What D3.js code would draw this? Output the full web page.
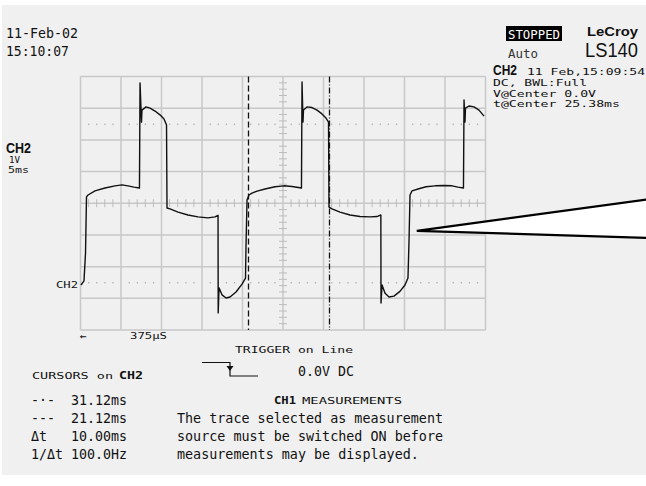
<!DOCTYPE html>
<html>
<head>
<meta charset="utf-8">
<script src="https://cdn.jsdelivr.net/npm/d3@7"></script>
<style>
  html, body { margin: 0; padding: 0; background: #ffffff; }
  #scope { width: 646px; height: 486px; }
  text { font-family: "DejaVu Sans Mono", monospace; fill: #111; }
</style>
</head>
<body>
<div id="scope"></div>
<script>
// screen settings
const timePerDiv = 5;        // ms
const voltPerDiv = 1;        // V
const timeCenter = 25.38;    // ms
const cursorTimes = [21.12, 31.12];
const cursorStyles = ["6,3", "6,2,1,2"];

// CH2 trace, time in ms and level in V
const traceTime = [
  0.44, 0.81, 1.00, 1.12, 1.31, 2.17, 3.40, 4.64, 5.50, 6.24, 6.98, 7.66,
  7.73, 7.91, 7.97, 8.47, 8.96, 9.58, 10.19, 10.69, 11.00,
  11.06, 11.43, 12.42, 13.65, 14.89, 16.12, 16.99, 17.36,
  17.38, 17.48, 17.85, 18.35, 18.84, 19.58, 20.32, 20.75, 20.81, 20.94, 21.18,
  21.55, 22.29, 23.16, 24.39, 25.50, 26.49, 27.66,
  27.73, 27.85, 27.91, 28.34, 28.96, 29.58, 30.19, 30.69, 31.00,
  31.06, 31.43, 32.42, 33.65, 34.89, 36.12, 36.99, 37.46,
  37.48, 37.61, 37.98, 38.47, 39.08, 39.82, 40.44, 40.81, 40.94, 41.06,
  41.31, 42.05, 43.04, 44.15, 45.26, 46.25, 46.99, 47.66,
  47.73, 47.85, 47.91, 48.34, 48.96, 49.58, 50.20
];
const traceVolt = [
  -2.58, -2.45, -1.57, 0.20, 0.26, 0.39, 0.48, 0.55, 0.58, 0.55, 0.51, 0.48,
  3.80, 2.56, 2.94, 3.04, 3.00, 2.91, 2.79, 2.66, 2.47,
  -0.15, -0.18, -0.28, -0.37, -0.43, -0.46, -0.43, -0.38,
  -3.46, -2.67, -2.89, -2.99, -2.96, -2.80, -2.55, -2.36, -1.38, 0.10, 0.26,
  0.32, 0.39, 0.45, 0.52, 0.55, 0.53, 0.48,
  3.83, 2.56, 2.94, 3.04, 3.02, 2.94, 2.82, 2.69, 2.56,
  -0.12, -0.18, -0.28, -0.37, -0.42, -0.43, -0.42, -0.37,
  -3.15, -2.58, -2.84, -2.96, -2.93, -2.78, -2.58, -2.36, -1.16, 0.26,
  0.39, 0.45, 0.52, 0.55, 0.56, 0.55, 0.51, 0.48,
  3.26, 2.56, 3.00, 3.07, 3.04, 2.94, 2.75
];

// reference marker levels (dotted lines) in V
const markerLevels = [2.5, -2.5];

const cursorLabels = ["-·-", "---", "Δt", "1/Δt"];
const cursorValues = ["31.12ms", "21.12ms", "10.00ms", "100.0Hz"];
const messageLines = [
  "The trace selected as measurement",
  "source must be switched ON before",
  "measurements may be displayed."
];

const W = 646, H = 486;
const svg = d3.select("#scope").append("svg")
  .attr("width", W).attr("height", H)
  .attr("viewBox", `0 0 ${W} ${H}`);

svg.append("rect").attr("x", 2).attr("y", 5).attr("width", W - 2).attr("height", 470)
  .attr("fill", "#f0f0f0");

const gLeft = 80.5, gRight = 485.5, gTop = 76.5, gBottom = 330;
const x = d3.scaleLinear()
  .domain([timeCenter - 5 * timePerDiv, timeCenter + 5 * timePerDiv])
  .range([gLeft, gRight]);
const y = d3.scaleLinear()
  .domain([-4 * voltPerDiv, 4 * voltPerDiv])
  .range([gBottom, gTop]);

// graticule
const grid = svg.append("g").attr("stroke", "#c8c8c8").attr("stroke-width", 1.5);
const xDivs = d3.range(0, 11).map(i => x.domain()[0] + i * timePerDiv);
const yDivs = d3.range(-4, 5).map(i => i * voltPerDiv);
grid.selectAll("line.v").data(xDivs).enter().append("line")
  .attr("x1", d => x(d)).attr("x2", d => x(d))
  .attr("y1", gTop).attr("y2", gBottom);
grid.selectAll("line.h").data(yDivs).enter().append("line")
  .attr("x1", gLeft).attr("x2", gRight)
  .attr("y1", d => y(d)).attr("y2", d => y(d));

// minor ticks on the centre lines
const minorT = d3.range(0, 51).map(i => x.domain()[0] + i * timePerDiv / 5)
  .filter((d, i) => i % 5 !== 0);
const minorV = d3.range(-20, 21).map(i => i * voltPerDiv / 5)
  .filter((d, i) => i % 5 !== 0);
const ticks = svg.append("g").attr("stroke", "#bcbcbc").attr("stroke-width", 1);
ticks.selectAll("line.tx").data(minorT).enter().append("line")
  .attr("x1", d => x(d)).attr("x2", d => x(d))
  .attr("y1", y(0) - 4).attr("y2", y(0) + 4);
ticks.selectAll("line.ty").data(minorV).enter().append("line")
  .attr("x1", x(timeCenter) - 4).attr("x2", x(timeCenter) + 4)
  .attr("y1", d => y(d)).attr("y2", d => y(d));

// dotted marker levels
markerLevels.forEach(lv => {
  svg.append("g").selectAll("rect").data(minorT).enter().append("rect")
    .attr("x", d => x(d) - 0.5).attr("y", y(lv) - 0.5)
    .attr("width", 1.2).attr("height", 1.5)
    .attr("fill", "#b0b0b0");
});

// cursors
svg.append("g").selectAll("line").data(cursorTimes).enter().append("line")
  .attr("x1", d => x(d)).attr("x2", d => x(d))
  .attr("y1", gTop).attr("y2", gBottom)
  .attr("stroke", "#111").attr("stroke-width", 1.3)
  .attr("stroke-dasharray", (d, i) => cursorStyles[i]);

// trace
const pts = traceTime.map((t, i) => [t, traceVolt[i]]);
const line = d3.line().x(d => x(d[0])).y(d => y(d[1]));
svg.append("path").datum(pts)
  .attr("d", line)
  .attr("fill", "none")
  .attr("stroke", "#111")
  .attr("stroke-width", 1.4)
  .attr("stroke-linejoin", "round");

// callout wedge
svg.append("path")
  .attr("d", `M${x(41.9)},${y(-0.87)} L650,199 L650,238 Z`)
  .attr("fill", "#ffffff")
  .attr("stroke", "#000")
  .attr("stroke-width", 2.2)
  .attr("stroke-linejoin", "miter");

// text helper
function label(str, px, py, size, opts = {}) {
  const t = svg.append("text")
    .attr("x", px).attr("y", py)
    .style("font-size", size + "px")
    .text(str);
  if (opts.len) t.attr("textLength", opts.len).attr("lengthAdjust", "spacingAndGlyphs");
  if (opts.bold) t.style("font-weight", "bold");
  if (opts.family) t.style("font-family", opts.family);
  if (opts.fill) t.style("fill", opts.fill);
  if (opts.anchor) t.attr("text-anchor", opts.anchor);
  return t;
}

label("11-Feb-02", 6, 38, 13.3, { len: 72 });
label("15:10:07", 6, 56, 13.3, { len: 63 });

svg.append("rect").attr("x", 506).attr("y", 26).attr("width", 56).attr("height", 15).attr("fill", "#000");
label("STOPPED", 508, 39, 12.5, { len: 52, fill: "#fff" });
label("Auto", 508, 58, 12.5, { len: 30, fill: "#333" });
label("LeCroy", 587, 36, 13.5, { len: 51, bold: true, family: "Liberation Sans, Arial, sans-serif" });
label("LS140", 585, 57, 19.5, { len: 53, family: "Liberation Sans, Arial, sans-serif" });

label("CH2", 493, 75, 14, { len: 24, bold: true, family: "Liberation Sans, Arial, sans-serif" });
label("11 Feb,15:09:54", 527, 75, 9.5, { len: 118 });
label("DC, BWL:Full", 493, 86, 9.5, { len: 94 });
label("V@Center 0.0V", 493, 96.5, 9.5, { len: 103 });
label("t@Center 25.38ms", 493, 107, 9.5, { len: 127 });

label("CH2", 6, 153, 14, { len: 25, bold: true, family: "Liberation Sans, Arial, sans-serif" });
label("1V", 9, 163, 9, { len: 11 });
label("5ms", 8, 173, 9, { len: 21 });
label("CH2", 56, 288, 9.5, { len: 22 });

label("←", 80, 340, 11);
label("375μS", 130, 338.5, 9.5, { len: 37 });

label("TRIGGER on Line", 235, 353, 9.5, { len: 118 });
svg.append("path")
  .attr("d", "M202,362.5 H230 V376 H258")
  .attr("fill", "none").attr("stroke", "#111").attr("stroke-width", 1.2);
svg.append("path").attr("d", "M226.5,366 L233.5,366 L230,371 Z").attr("fill", "#111");
label("0.0V DC", 298, 376, 13.3, { len: 56 });

label("CURSORS on", 32, 379, 9.5, { len: 81 });
label("CH2", 119, 379, 10.5, { len: 24, bold: true });

svg.append("g").selectAll("text.cl").data(cursorLabels).enter().append("text")
  .attr("x", 31).attr("y", (d, i) => 405 + i * 18)
  .style("font-size", "13.3px")
  .text(d => d);
svg.append("g").selectAll("text.cv").data(cursorValues).enter().append("text")
  .attr("x", 71).attr("y", (d, i) => 405 + i * 18)
  .attr("textLength", 56).attr("lengthAdjust", "spacingAndGlyphs")
  .style("font-size", "13.3px")
  .text(d => d);

label("CH1", 274, 404, 10.5, { len: 22, bold: true });
label("MEASUREMENTS", 302, 404, 9.5, { len: 100 });
svg.append("g").selectAll("text.msg").data(messageLines).enter().append("text")
  .attr("x", 177).attr("y", (d, i) => 422.5 + i * 18)
  .style("font-size", "13.4px")
  .text(d => d);
</script>
</body>
</html>
